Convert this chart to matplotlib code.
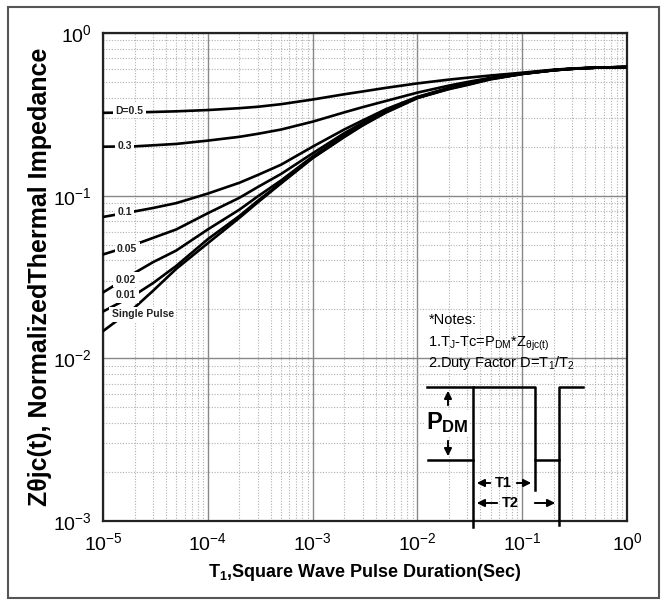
import numpy as np
import matplotlib
matplotlib.use("Agg")
import matplotlib.pyplot as plt
from matplotlib.patches import Rectangle

plt.rcParams['font.family'] = ['Liberation Sans', 'DejaVu Sans']
plt.rcParams['mathtext.fontset'] = 'custom'
plt.rcParams['mathtext.rm'] = 'Liberation Sans'
plt.rcParams['mathtext.it'] = 'Liberation Sans:italic'
plt.rcParams['mathtext.bf'] = 'Liberation Sans:bold'

# pulse duration (s)
t = [1e-5, 2e-5, 3e-5, 5e-5, 1e-4, 2e-4, 3e-4, 5e-4, 1e-3, 2e-3, 3e-3,
     5e-3, 1e-2, 2e-2, 3e-2, 5e-2, 1e-1, 2e-1, 3e-1, 5e-1, 1.0]

# normalized thermal impedance per duty factor
z_d05 = [0.323, 0.325, 0.327, 0.330, 0.336, 0.345, 0.352, 0.365, 0.390, 0.420, 0.437,
         0.460, 0.490, 0.517, 0.531, 0.548, 0.570, 0.595, 0.605, 0.613, 0.618]
z_d03 = [0.200, 0.201, 0.204, 0.208, 0.218, 0.230, 0.240, 0.255, 0.285, 0.325, 0.350,
         0.382, 0.430, 0.475, 0.500, 0.530, 0.565, 0.592, 0.603, 0.612, 0.618]
z_d01 = [0.074, 0.080, 0.084, 0.090, 0.103, 0.120, 0.134, 0.155, 0.200, 0.255, 0.290,
         0.340, 0.405, 0.460, 0.490, 0.527, 0.563, 0.591, 0.603, 0.612, 0.618]
z_d005 = [0.0435, 0.050, 0.055, 0.062, 0.078, 0.097, 0.113, 0.136, 0.182, 0.242, 0.280,
          0.332, 0.402, 0.458, 0.488, 0.525, 0.562, 0.591, 0.603, 0.612, 0.618]
z_d002 = [0.0254, 0.0335, 0.039, 0.046, 0.062, 0.082, 0.099, 0.124, 0.174, 0.235, 0.275,
          0.328, 0.400, 0.456, 0.486, 0.523, 0.561, 0.590, 0.602, 0.612, 0.618]
z_d001 = [0.0194, 0.0245, 0.029, 0.037, 0.054, 0.075, 0.093, 0.120, 0.171, 0.231, 0.272,
          0.326, 0.400, 0.454, 0.482, 0.521, 0.560, 0.590, 0.602, 0.612, 0.618]
z_single = [0.0147, 0.0205, 0.026, 0.0355, 0.051, 0.073, 0.091, 0.119, 0.170, 0.229, 0.270,
            0.324, 0.398, 0.452, 0.479, 0.519, 0.560, 0.590, 0.602, 0.612, 0.618]

curves = [z_d05, z_d03, z_d01, z_d005, z_d002, z_d001, z_single]
labels = ["D=0.5", "0.3", "0.1", "0.05", "0.02", "0.01", "Single Pulse"]
# label anchor (t, Z)
lab_t = [1.78e-5, 1.6e-5, 1.6e-5, 1.7e-5, 1.66e-5, 1.66e-5, 2.4e-5]
lab_z = [0.333, 0.202, 0.079, 0.047, 0.0305, 0.0245, 0.0186]

fig = plt.figure(figsize=(6.66, 6.06), dpi=100)
ax = fig.add_axes([103/666, 85/606, 524/666, 488/606])
ax.set_xscale('log')
ax.set_yscale('log')
ax.set_xlim(1e-5, 1)
ax.set_ylim(1e-3, 1)

ax.grid(which='major', color='#888888', lw=1.0, ls='-')
ax.grid(which='minor', color='#b0b0b0', lw=0.8, ls=(0, (1, 1.5)))
ax.set_axisbelow(True)

for z in curves:
    ax.plot(t, z, color='black', lw=1.9, zorder=3)

for lab, lt, lz in zip(labels, lab_t, lab_z):
    ax.text(lt, lz, lab, fontsize=7.5, fontweight='bold', ha='center', va='center',
            color='#222222', zorder=4,
            bbox=dict(facecolor='white', edgecolor='none', pad=1.8))

for s in ax.spines.values():
    s.set_linewidth(1.6)
    s.set_color('#222222')
ax.tick_params(which='both', length=0)
ax.tick_params(which='major', labelsize=14, pad=8)

ax.set_xlabel("T$_\\mathbf{1}$,Square Wave Pulse Duration(Sec)", fontsize=13,
              fontweight='bold', labelpad=6)
ax.set_ylabel("Z\u03b8jc(t), NormalizedThermal Impedance", fontsize=18,
              fontweight='bold', labelpad=1)

# notes
tr = ax.transAxes
ax.text(0.621, 0.411, "*Notes:", transform=tr, fontsize=10.5, va='center')
ax.text(0.621, 0.364, "1.T$_\\mathregular{J}$-Tc=P$_\\mathregular{DM}$*Z$_\\mathregular{\\theta jc(t)}$",
        transform=tr, fontsize=10.5, va='center')
ax.text(0.621, 0.323, "2.Duty Factor D=T$_\\mathregular{1}$/T$_\\mathregular{2}$",
        transform=tr, fontsize=10.5, va='center')

# pulse waveform sketch (axes fraction)
def fx(px):
    return (px - 103) / 524

def fy(py):
    return (521 - py) / 488

kw = dict(transform=tr, color='black', lw=1.8, clip_on=False, zorder=5)
ax.plot([fx(427), fx(473)], [fy(387), fy(387)], **kw)
ax.plot([fx(428), fx(473)], [fy(460), fy(460)], **kw)
ax.plot([fx(473), fx(473), fx(535), fx(535), fx(559), fx(559), fx(583)],
        [fy(527), fy(387), fy(387), fy(460), fy(460), fy(387), fy(387)], **kw)
ax.plot([fx(535), fx(535)], [fy(460), fy(490)], **kw)
ax.plot([fx(559), fx(559)], [fy(460), fy(525)], **kw)

akw = dict(arrowstyle='-|>', color='black', lw=1.4, mutation_scale=11)
ax.annotate("", xy=(fx(448), fy(388)), xytext=(fx(448), fy(408)), xycoords=tr, arrowprops=akw)
ax.annotate("", xy=(fx(448), fy(459)), xytext=(fx(448), fy(438)), xycoords=tr, arrowprops=akw)
ax.text(fx(447), fy(423), "$\\mathbf{P}_\\mathbf{DM}$", transform=tr, fontsize=17,
        ha='center', va='center', zorder=6,
        bbox=dict(facecolor='white', edgecolor='none', pad=0.5))

ax.annotate("", xy=(fx(474), fy(483)), xytext=(fx(493), fy(483)), xycoords=tr, arrowprops=akw)
ax.annotate("", xy=(fx(534), fy(483)), xytext=(fx(514), fy(483)), xycoords=tr, arrowprops=akw)
ax.text(fx(503), fy(483), "T1", transform=tr, fontsize=10.5, fontweight='bold',
        ha='center', va='center')
ax.annotate("", xy=(fx(474), fy(503)), xytext=(fx(500), fy(503)), xycoords=tr, arrowprops=akw)
ax.annotate("", xy=(fx(558), fy(503)), xytext=(fx(532), fy(503)), xycoords=tr, arrowprops=akw)
ax.text(fx(510), fy(503), "T2", transform=tr, fontsize=10.5, fontweight='bold',
        ha='center', va='center')

# outer frame
fig.add_artist(Rectangle((8/666, 8/606), 651/666, 591/606, transform=fig.transFigure,
                         fill=False, edgecolor='#555555', lw=1.5))

fig.savefig("out.png", dpi=100)
